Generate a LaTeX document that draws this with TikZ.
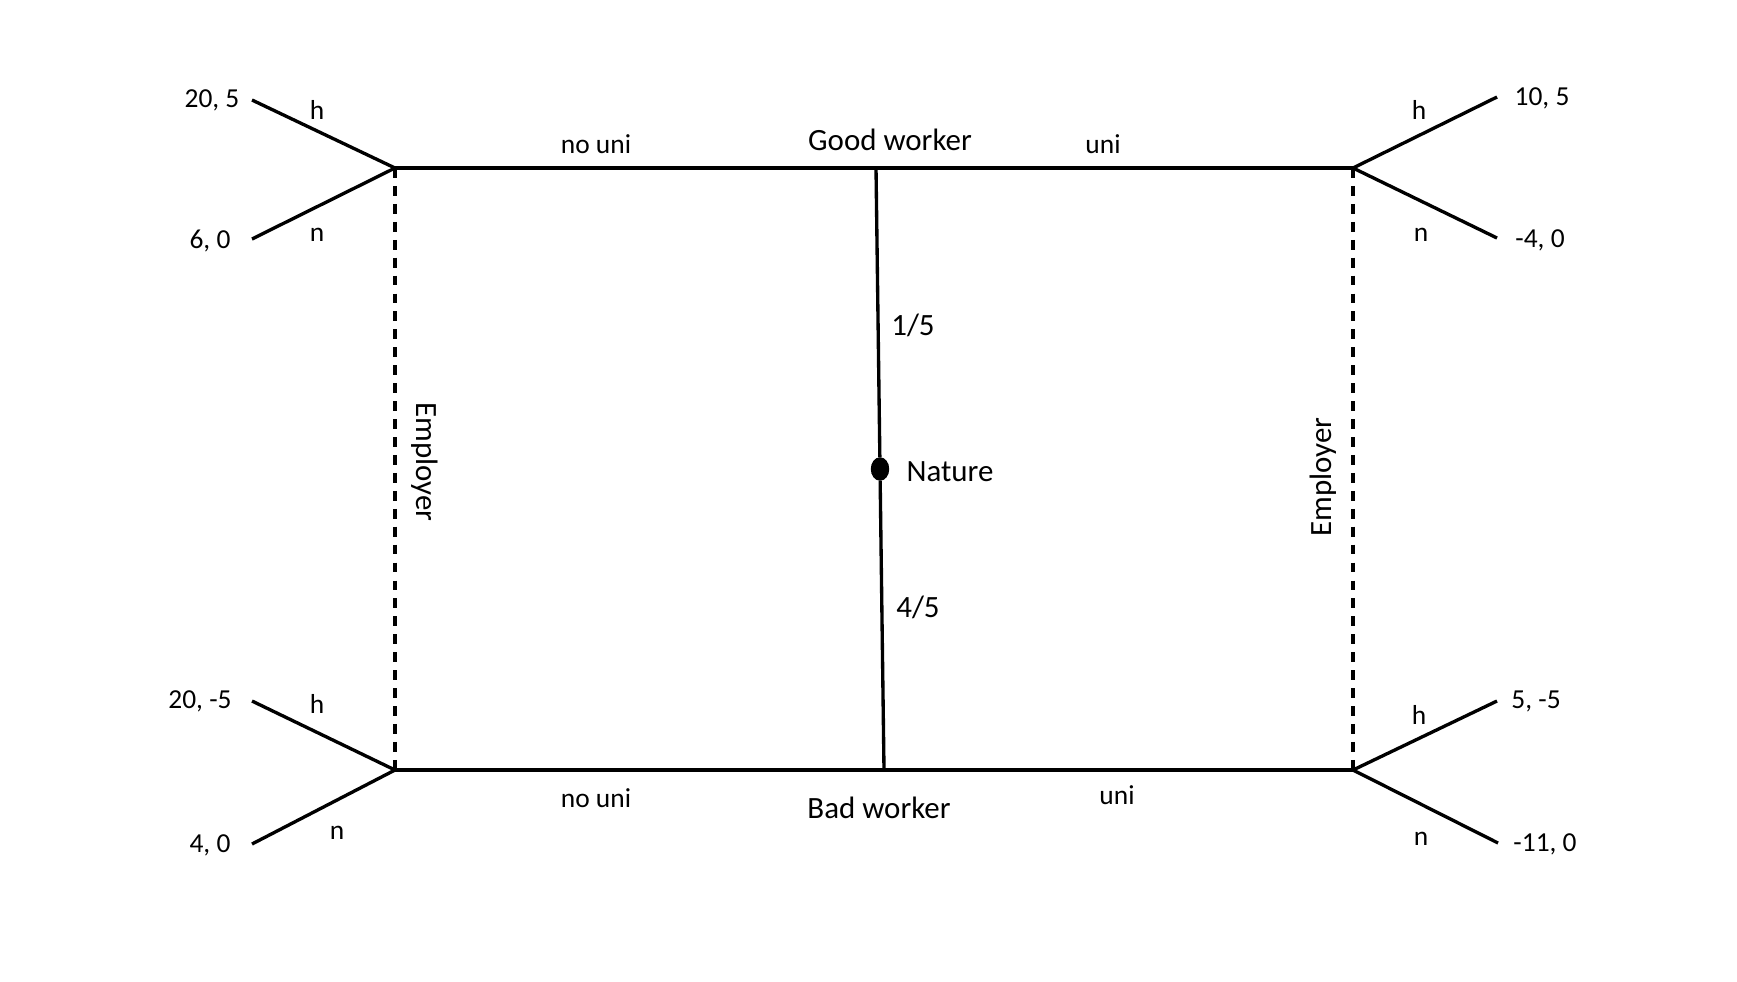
\documentclass[tikz,border=0pt]{standalone}
\usepackage{fontspec}
\setmainfont{Carlito}
\usetikzlibrary{positioning,shapes.geometric}

\begin{document}
\begin{tikzpicture}[
  x=0.01cm, y=-0.01cm,
  edge/.style={line width=0.95pt},
  info/.style={line width=0.95pt, dash pattern=on 2.8pt off 2.3pt},
  lbl/.style={font=\fontsize{7.8}{9}\selectfont, inner sep=0pt},
  big/.style={font=\fontsize{8.8}{10}\selectfont, inner sep=0pt},
  chance/.style={ellipse, draw, fill, minimum width=0.17cm, minimum height=0.22cm, inner sep=0pt}
]
  \useasboundingbox (0,0) rectangle (1737,981);
  % decision points
  \coordinate (gl) at (395,168);
  \coordinate (gr) at (1353,168);
  \coordinate (bl) at (395,770);
  \coordinate (br) at (1353,770);
  \coordinate (gw) at (876,168);
  \coordinate (bw) at (884,770);
  \node[chance] (nat) at (880,469) {};
  % end points
  \coordinate (glh) at (252,100);
  \coordinate (gln) at (252,239);
  \coordinate (grh) at (1497,97);
  \coordinate (grn) at (1497,238);
  \coordinate (blh) at (252,701);
  \coordinate (bln) at (252,844);
  \coordinate (brh) at (1497,701);
  \coordinate (brn) at (1498,843);

  \draw[edge] (gl) -- (gr);
  \draw[edge] (bl) -- (br);
  \draw[edge] (gw) -- (nat) -- (bw);
  \draw[info] (gl) -- (bl);
  \draw[info] (gr) -- (br);
  \draw[edge] (glh) -- (gl) -- (gln);
  \draw[edge] (grh) -- (gr) -- (grn);
  \draw[edge] (blh) -- (bl) -- (bln);
  \draw[edge] (brh) -- (br) -- (brn);

  % payoffs
  \node[lbl] (p1) at (212,100) {20, 5};
  \node[lbl] (p2) at (210,241) {6, 0};
  \node[lbl] (p3) at (1542,98) {10, 5};
  \node[lbl] (p4) at (1540,240) {-4, 0};
  \node[lbl] (p5) at (200,701) {20, -5};
  \node[lbl] (p6) at (210,845) {4, 0};
  \node[lbl] (p7) at (1536,701) {5, -5};
  \node[lbl] (p8) at (1545,844) {-11, 0};

  % actions
  \node[lbl] at (317,110) {h};
  \node[lbl] at (317,235) {n};
  \node[lbl] at (1419,110) {h};
  \node[lbl] at (1421,235) {n};
  \node[lbl] at (317,704) {h};
  \node[lbl] at (337,833) {n};
  \node[lbl] at (1419,715) {h};
  \node[lbl] at (1421,839) {n};
  \node[lbl] at (596,144) {no uni};
  \node[lbl] at (1103,144) {uni};
  \node[lbl] at (596,798) {no uni};
  \node[lbl] at (1117,795) {uni};

  % players and chances
  \node[big] at (890,140) {Good worker};
  \node[big] at (879,808) {Bad worker};
  \node[big] at (950,472) {Nature};
  \node[big] at (913,325) {1/5};
  \node[big] at (918,607) {4/5};
  \node[big, rotate=-90] at (425,462) {Employer};
  \node[big, rotate=90] at (1323,477) {Employer};
\end{tikzpicture}
\end{document}
